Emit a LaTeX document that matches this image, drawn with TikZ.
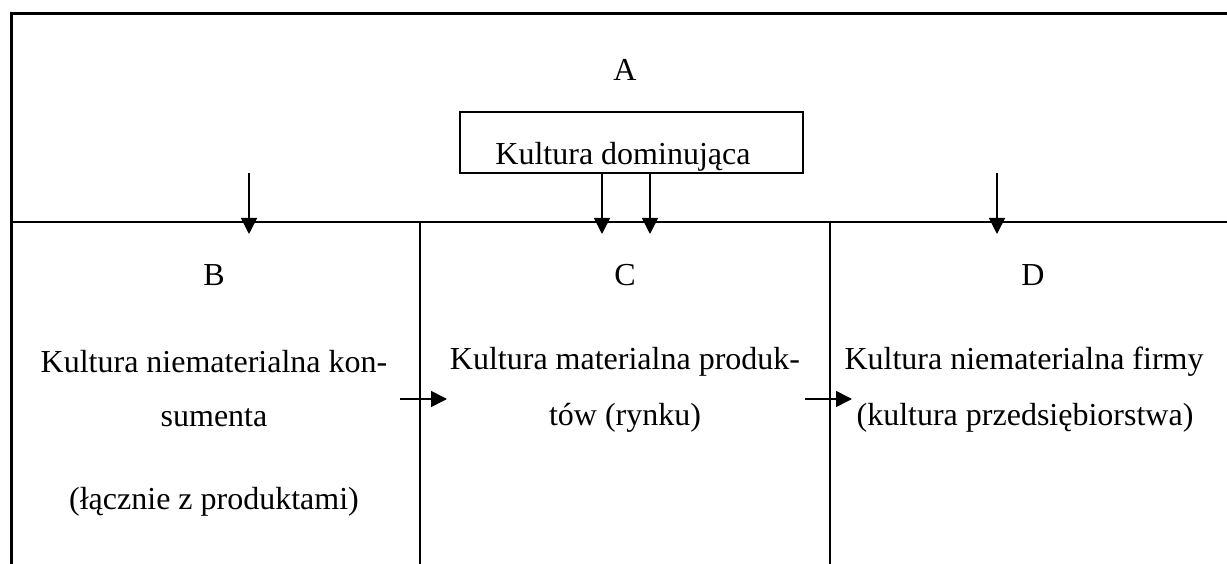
\documentclass[tikz,border=0pt]{standalone}
\usepackage{fontspec}
\setmainfont{Liberation Serif}
\usetikzlibrary{arrows.meta}
\begin{document}
\begin{tikzpicture}[x=1pt,y=-1pt,
  txt/.style={inner sep=0pt,font=\fontsize{32}{38}\selectfont,anchor=center},
  thickln/.style={line width=3pt},
  midln/.style={line width=2pt},
  thinln/.style={line width=1.6pt},
  arr/.style={line width=1.6pt,-{Triangle[width=16pt,length=16pt]}}]
\useasboundingbox (0,0) rectangle (1227,564);
\fill[white] (0,0) rectangle (1227,564);
% frame
\coordinate (tl) at (11,14);
\coordinate (tr) at (1230,14);
\coordinate (bl) at (11,567);
\draw[thickln] (tr) -- (tl) -- (bl);
\coordinate (sepL) at (11,222);
\coordinate (sepR) at (1230,222);
\draw[thinln] (sepL) -- (sepR);
\coordinate (v1t) at (420,222);
\coordinate (v1b) at (420,567);
\coordinate (v2t) at (830,222);
\coordinate (v2b) at (830,567);
\draw[midln] (v1t) -- (v1b);
\draw[midln] (v2t) -- (v2b);
% dominant culture box
\node[draw,line width=1.8pt,minimum width=343pt,minimum height=61pt,inner sep=0pt] (dom) at (631.5,142.5) {};
\node[txt] (domtxt) at (623,157) {Kultura dominująca};
\node[txt] (A) at (625,70) {A};
\node[txt] (B) at (214,275) {B};
\node[txt] (C) at (625,275) {C};
\node[txt] (D) at (1033,275) {D};
% column texts
\node[txt] (b1) at (214,362) {Kultura niematerialna kon-};
\node[txt] (b2) at (214,418) {sumenta};
\node[txt] (b3) at (214,502) {(łącznie z produktami)};
\node[txt] (c1) at (625,362) {Kultura materialna produk-};
\node[txt] (c2) at (625,418) {tów (rynku)};
\node[txt] (d1) at (1024,362) {Kultura niematerialna firmy};
\node[txt] (d2) at (1025,418) {(kultura przedsiębiorstwa)};
% vertical arrows
\coordinate (aBs) at (249,173);
\coordinate (aBe) at (249,234);
\coordinate (aDs) at (997,173);
\coordinate (aDe) at (997,234);
\coordinate (c1e) at (602,234);
\coordinate (c2e) at (650,234);
\draw[arr] (aBs) -- (aBe);
\draw[arr] (aDs) -- (aDe);
\draw[arr] (dom.south -| c1e) -- (c1e);
\draw[arr] (dom.south -| c2e) -- (c2e);
% horizontal arrows
\coordinate (h1s) at (400,399);
\coordinate (h1e) at (447,399);
\coordinate (h2s) at (805,399);
\coordinate (h2e) at (852,399);
\draw[arr] (h1s) -- (h1e);
\draw[arr] (h2s) -- (h2e);
\end{tikzpicture}
\end{document}
